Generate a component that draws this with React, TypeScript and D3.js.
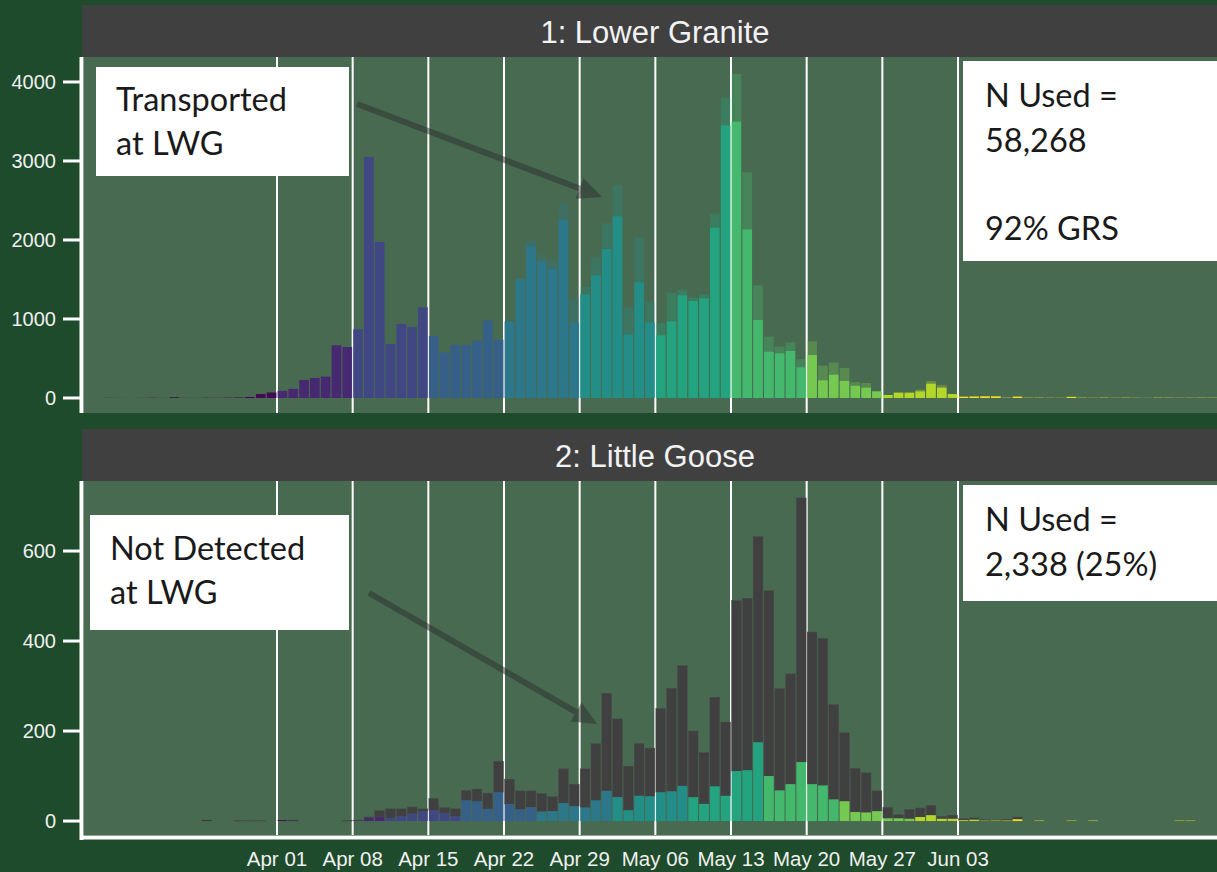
import React, { useRef, useEffect } from 'react';
import * as d3 from 'd3';

// one value per day, starting at firstDay (Mar 15) and ending Jun 26
const firstDay = '2021-03-15';

// Lower Granite: solid part and the translucent part stacked on top
const lwgMain = [
  0, 2, 1, 0, 2, 3, 1, 10, 2, 1, 3, 2, 4, 7, 13, 50, 70,
  90, 115, 228, 253, 270, 667, 646, 870, 3051, 1975,
  684, 937, 899, 1148, 785, 575, 671, 667, 722, 980,
  739, 967, 1506, 1924, 1730, 1638, 2249, 954, 1309, 1553,
  1886, 2300, 806, 1465, 958, 794, 971, 1300, 1228, 1262,
  2157, 3452, 3499, 2135, 987, 587, 566, 595, 389, 544,
  224, 296, 215, 157, 132, 85, 38, 68, 68, 85,
  182, 132, 51, 17, 20, 22, 22, 0, 18, 0,
  0, 0, 0, 15, 0, 0, 0, 0, 0, 0,
  0, 0, 0, 0, 0, 0, 0,
];
const lwgExtra = [
  0, 0, 0, 0, 0, 0, 0, 0, 0, 0, 0, 0, 0, 0, 0, 0, 0,
  0, 0, 0, 0, 0, 0, 0, 0, 0, 0,
  0, 0, 0, 0, 0, 0, 0, 0, 0, 0,
  0, 10, 0, 72, 89, 105, 224, 304, 96, 228,
  325, 392, 342, 565, 262, 152, 363, 72, 43, 51,
  177, 349, 602, 722, 439, 190, 84, 110, 101, 174,
  186, 152, 165, 42, 58, 0, 0, 0, 0, 21,
  33, 30, 0, 0, 0, 0, 0, 13, 0, 13,
  13, 8, 8, 0, 13, 8, 13, 8, 13, 8,
  4, 13, 12, 9, 9, 12, 12,
];

// Little Goose: total per day and the part that is coloured (rest is grey)
const lgoTotal = [
  0, 0, 0, 0, 0, 0, 0, 0, 0, 0, 2, 0, 0, 1, 1, 1, 0,
  2, 2, 0, 0, 0, 0, 1, 2, 9, 23,
  27, 27, 31, 27, 50, 30, 27, 68, 71, 62,
  133, 93, 67, 67, 61, 54, 116, 82, 116, 172,
  284, 227, 122, 172, 162, 250, 295, 345, 200, 152,
  275, 220, 490, 495, 632, 512, 294, 327, 718, 420,
  406, 259, 196, 117, 107, 67, 30, 14, 26, 29,
  35, 10, 13, 5, 7, 3, 2, 4, 9, 0,
  1, 0, 0, 1, 0, 1, 0, 0, 0, 0,
  0, 0, 0, 1, 1, 0, 0,
];
const lgoColored = [
  0, 0, 0, 0, 0, 0, 0, 0, 0, 0, 1, 0, 0, 0, 0, 0, 0,
  2, 1, 0, 0, 0, 0, 0, 1, 7, 9,
  7, 11, 16, 21, 24, 18, 11, 46, 44, 27,
  64, 38, 26, 31, 21, 22, 40, 33, 30, 46,
  67, 53, 24, 56, 55, 64, 66, 78, 53, 38,
  77, 56, 111, 113, 175, 100, 68, 82, 131, 82,
  79, 48, 44, 20, 19, 22, 6, 6, 5, 9,
  13, 5, 5, 2, 3, 1, 1, 1, 4, 0,
  1, 0, 0, 1, 0, 1, 0, 0, 0, 0,
  0, 0, 0, 1, 1, 0, 0,
];

const weekTicks = [
  '2021-04-01', '2021-04-08', '2021-04-15', '2021-04-22', '2021-04-29',
  '2021-05-06', '2021-05-13', '2021-05-20', '2021-05-27', '2021-06-03',
];
const lwgTicks = [0, 1000, 2000, 3000, 4000];
const lgoTicks = [0, 200, 400, 600];
const colorStart = '2021-04-01'; // weekly colour bins from here

const W = 1217;
const H = 872;
const BG = '#1e4b2b';
const PANEL = '#486a51';
const STRIP = '#404040';
const annoFont = 'Lato, "Open Sans", sans-serif';
const axisFont = '"Liberation Sans", Arial, sans-serif';

function App() {
  const ref = useRef<SVGSVGElement>(null);

  useEffect(() => {
    const svg = d3.select(ref.current);
    svg.selectAll('*').remove();

    const parse = d3.utcParse('%Y-%m-%d');
    const start = parse(firstDay)!;
    const c0 = parse(colorStart)!;
    const days = lwgMain.map((_, i) => d3.utcDay.offset(start, i));

    const left = 84;
    const x = d3.scaleUtc()
      .domain([new Date(Date.UTC(2021, 2, 14, 3, 30)), new Date(Date.UTC(2021, 5, 26, 23, 0))])
      .range([left, W]);
    const dayW = x(d3.utcDay.offset(c0, 1)) - x(c0);

    // colour by week passing LWG; Little Goose fish passed LWG a few days earlier
    const weekColor = (d: Date, lag = 0) => {
      const k = Math.floor((d3.utcDay.count(c0, d) - lag) / 7) + 1;
      return d3.interpolateViridis(Math.max(0, Math.min(10, k)) / 10);
    };

    svg.append('rect').attr('width', W).attr('height', H).attr('fill', BG);

    const panels = [
      { title: '1: Lower Granite', sy: 5, py0: 57, py1: 413, domain: [-190, 4316], ticks: lwgTicks },
      { title: '2: Little Goose', sy: 429, py0: 481, py1: 835, domain: [-31, 755.6], ticks: lgoTicks },
    ];

    const ys = panels.map(p => d3.scaleLinear().domain(p.domain).range([p.py1, p.py0]));

    panels.forEach((p, pi) => {
      const y = ys[pi];
      // strip
      svg.append('rect').attr('x', 82).attr('y', p.sy).attr('width', W - 82).attr('height', p.py0 - p.sy).attr('fill', STRIP);
      svg.append('text').attr('x', 655).attr('y', (p.sy + p.py0) / 2 + 1)
        .attr('text-anchor', 'middle').attr('dominant-baseline', 'central')
        .attr('font-family', axisFont).attr('font-size', 31).attr('fill', '#f2f2f2')
        .text(p.title);
      // panel
      svg.append('rect').attr('x', left).attr('y', p.py0).attr('width', W - left).attr('height', p.py1 - p.py0).attr('fill', PANEL);
      // vertical grid
      svg.append('g').selectAll('line').data(weekTicks).join('line')
        .attr('x1', d => x(parse(d)!)).attr('x2', d => x(parse(d)!))
        .attr('y1', p.py0).attr('y2', p.py1)
        .attr('stroke', '#ffffff').attr('stroke-width', 2);
      // y axis
      const ax = svg.append('g');
      ax.append('line').attr('x1', 81.5).attr('x2', 81.5).attr('y1', p.py0).attr('y2', pi === 1 ? p.py1 + 5 : p.py1)
        .attr('stroke', '#ffffff').attr('stroke-width', 4);
      ax.selectAll('line.tk').data(p.ticks).join('line').attr('class', 'tk')
        .attr('x1', 63).attr('x2', 80).attr('y1', d => y(d)).attr('y2', d => y(d))
        .attr('stroke', '#ffffff').attr('stroke-width', 3);
      ax.selectAll('text').data(p.ticks).join('text')
        .attr('x', 56).attr('y', d => y(d)).attr('text-anchor', 'end').attr('dominant-baseline', 'central')
        .attr('font-family', axisFont).attr('font-size', 20).attr('fill', '#f0f0f0')
        .text(d => String(d));
    });

    // top panel bars
    const yT = ys[0];
    const gT = svg.append('g');
    const rowsT = days.map((d, i) => ({ d, main: lwgMain[i], extra: lwgExtra[i] }));
    gT.selectAll('rect.m').data(rowsT.filter(r => r.main > 0)).join('rect').attr('class', 'm')
      .attr('x', r => x(r.d) + dayW * 0.05).attr('width', dayW * 0.9)
      .attr('y', r => yT(r.main)).attr('height', r => yT(0) - yT(r.main))
      .attr('fill', r => weekColor(r.d)).attr('fill-opacity', 0.92);
    gT.selectAll('rect.e').data(rowsT.filter(r => r.extra > 0)).join('rect').attr('class', 'e')
      .attr('x', r => x(r.d) + dayW * 0.05).attr('width', dayW * 0.9)
      .attr('y', r => yT(r.main + r.extra)).attr('height', r => yT(r.main) - yT(r.main + r.extra))
      .attr('fill', r => weekColor(r.d)).attr('fill-opacity', 0.3);

    // bottom panel bars
    const yB = ys[1];
    const gB = svg.append('g');
    const rowsB = days.map((d, i) => ({ d, total: lgoTotal[i], col: lgoColored[i] }));
    gB.selectAll('rect.g').data(rowsB.filter(r => r.total > r.col)).join('rect').attr('class', 'g')
      .attr('x', r => x(r.d) + dayW * 0.05).attr('width', dayW * 0.9)
      .attr('y', r => yB(r.total)).attr('height', r => yB(r.col) - yB(r.total))
      .attr('fill', '#404040').attr('stroke', '#4a4a4a').attr('stroke-width', 0.5);
    gB.selectAll('rect.c').data(rowsB.filter(r => r.col > 0)).join('rect').attr('class', 'c')
      .attr('x', r => x(r.d) + dayW * 0.05).attr('width', dayW * 0.9)
      .attr('y', r => yB(r.col)).attr('height', r => yB(0) - yB(r.col))
      .attr('fill', r => weekColor(r.d, 3)).attr('fill-opacity', 0.92);

    // x axis (bottom panel only)
    svg.append('line').attr('x1', 80).attr('x2', W).attr('y1', 837.5).attr('y2', 837.5)
      .attr('stroke', '#ffffff').attr('stroke-width', 4);
    svg.append('g').selectAll('text').data(weekTicks).join('text')
      .attr('x', d => x(parse(d)!)).attr('y', 866).attr('text-anchor', 'middle')
      .attr('font-family', axisFont).attr('font-size', 20.5).attr('fill', '#f0f0f0')
      .text(d => d3.utcFormat('%b %d')(parse(d)!));

    // annotation boxes
    const boxes = [
      { x: 96, y: 67, w: 253, h: 109, lines: [['Transported', 111], ['at LWG', 155]], tx: 116 },
      { x: 963, y: 61, w: W - 963, h: 200, lines: [['N Used =', 107], ['58,268', 152], ['92% GRS', 240]], tx: 985 },
      { x: 90, y: 515, w: 259, h: 115, lines: [['Not Detected', 560], ['at LWG', 604]], tx: 110 },
      { x: 963, y: 485, w: W - 963, h: 116, lines: [['N Used =', 531], ['2,338 (25%)', 576]], tx: 985 },
    ];
    boxes.forEach(b => {
      svg.append('rect').attr('x', b.x).attr('y', b.y).attr('width', b.w).attr('height', b.h).attr('fill', '#ffffff');
      b.lines.forEach(([t, by]) => {
        svg.append('text').attr('x', b.tx).attr('y', by as number)
          .attr('font-family', annoFont).attr('font-size', 32.5).attr('fill', '#1a1a1a')
          .text(t as string);
      });
    });

    // arrows
    const arrows = [
      { x1: 357, y1: 104, x2: 602, y2: 197 },
      { x1: 369, y1: 593, x2: 597, y2: 724 },
    ];
    arrows.forEach(a => {
      const ang = Math.atan2(a.y2 - a.y1, a.x2 - a.x1);
      const hl = 24, hw = 11;
      const bx = a.x2 - hl * Math.cos(ang), by = a.y2 - hl * Math.sin(ang);
      const px = -Math.sin(ang), py = Math.cos(ang);
      const g = svg.append('g').attr('opacity', 0.5);
      g.append('line').attr('x1', a.x1).attr('y1', a.y1).attr('x2', bx).attr('y2', by)
        .attr('stroke', '#2e2e2e').attr('stroke-width', 6);
      g.append('path')
        .attr('d', `M${a.x2},${a.y2}L${bx + px * hw},${by + py * hw}L${bx - px * hw},${by - py * hw}Z`)
        .attr('fill', '#2e2e2e');
    });
  }, []);

  return (
    <svg ref={ref} width={W} height={H} style={{ position: 'absolute', left: 0, top: 0, display: 'block' }} />
  );
}

export default App;
